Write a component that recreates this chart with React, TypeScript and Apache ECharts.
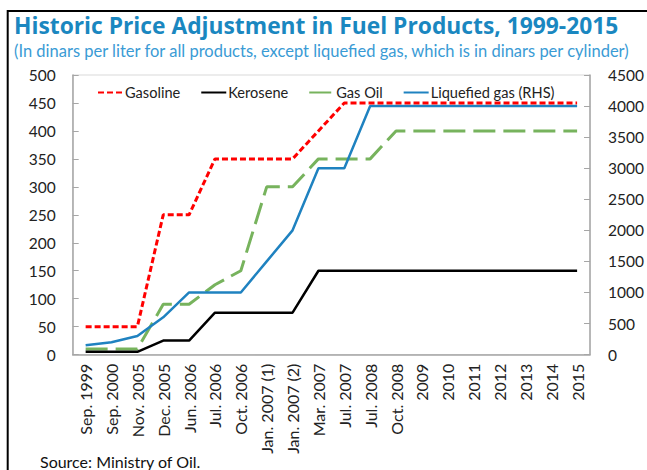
import React, { useEffect, useRef } from "react";
import * as echarts from "echarts";

const categories = [
  "Sep. 1999", "Sep. 2000", "Nov. 2005", "Dec. 2005", "Jun. 2006", "Jul. 2006",
  "Oct. 2006", "Jan. 2007 (1)", "Jan. 2007 (2)", "Mar. 2007", "Jul. 2007", "Jul. 2008",
  "Oct. 2008", "2009", "2010", "2011", "2012", "2013", "2014", "2015",
];
const gasoline = [50, 50, 50, 250, 250, 350, 350, 350, 350, 400, 450, 450, 450, 450, 450, 450, 450, 450, 450, 450];
const kerosene = [5, 5, 5, 25, 25, 75, 75, 75, 75, 150, 150, 150, 150, 150, 150, 150, 150, 150, 150, 150];
const gasOil = [10, 10, 10, 90, 90, 125, 150, 300, 300, 350, 350, 350, 400, 400, 400, 400, 400, 400, 400, 400];
const liquefiedGas = [150, 200, 300, 600, 1000, 1000, 1000, 1500, 2000, 3000, 3000, 4000, 4000, 4000, 4000, 4000, 4000, 4000, 4000, 4000];

const leftTicks = { min: 0, max: 500, interval: 50 };
const rightTicks = { min: 0, max: 4500, interval: 500 };

const FONT = "Lato, 'Noto Sans', sans-serif";
const AXIS_COLOR = "#a6a6a6";

export default function App() {
  const ref = useRef<HTMLDivElement>(null);
  useEffect(() => {
    if (!ref.current) return;
    const chart = echarts.init(ref.current, null, { renderer: "svg" });
    chart.setOption({
      animation: false,
      backgroundColor: "#ffffff",
      textStyle: { fontFamily: FONT },
      graphic: [
        {
          type: "rect",
          shape: { x: 7.7, y: 11, width: 700, height: 600 },
          style: { fill: "none", stroke: "#000", lineWidth: 2 },
          silent: true,
        },
        {
          type: "text",
          left: 14,
          top: 14,
          style: {
            text: "Historic Price Adjustment in Fuel Products, 1999-2015",
            fill: "#1a87c0",
            font: `bold 22.8px 'Open Sans', sans-serif`,
          },
        },
        {
          type: "text",
          left: 14,
          top: 42,
          style: {
            text: "(In dinars per liter for all products, except liquefied gas, which is in dinars per cylinder)",
            fill: "#3a9bd5",
            font: `16.5px ${FONT}`,
          },
        },
        {
          type: "text",
          left: 40,
          top: 453,
          style: {
            text: "Source: Ministry of Oil.",
            fill: "#111",
            font: `16px ${FONT}`,
          },
        },
      ],
      legend: {
        left: 92,
        top: 80,
        itemWidth: 25,
        itemHeight: 10,
        itemGap: 20,
        itemStyle: { opacity: 0 },
        textStyle: { fontSize: 14.6, color: "#222", fontFamily: FONT, padding: [0, 0, 0, -3] },
        data: ["Gasoline", "Kerosene", "Gas Oil", "Liquefied gas (RHS)"],
      },
      grid: {
        left: 72.7,
        right: 50.3,
        top: 75,
        bottom: 115.4,
        show: true,
        borderColor: "#d9d9d9",
        borderWidth: 1,
        backgroundColor: "transparent",
      },
      xAxis: {
        type: "category",
        data: categories,
        boundaryGap: true,
        axisLine: { lineStyle: { color: AXIS_COLOR, width: 1.5 } },
        axisTick: { inside: true, length: 6, lineStyle: { color: AXIS_COLOR } },
        axisLabel: { rotate: 90, margin: 9, fontSize: 16, color: "#222", interval: 0, fontFamily: FONT },
        splitLine: { show: false },
      },
      yAxis: [
        {
          type: "value",
          ...leftTicks,
          position: "left",
          axisLine: { show: true, lineStyle: { color: AXIS_COLOR, width: 1.5 } },
          axisTick: { show: true, inside: true, length: 6, lineStyle: { color: AXIS_COLOR } },
          axisLabel: { margin: 17, fontSize: 15.5, color: "#222", fontFamily: FONT },
          splitLine: { show: false },
        },
        {
          type: "value",
          ...rightTicks,
          position: "right",
          axisLine: { show: true, lineStyle: { color: AXIS_COLOR, width: 1.5 } },
          axisTick: { show: true, inside: true, length: 6, lineStyle: { color: AXIS_COLOR } },
          axisLabel: {
            margin: 18,
            fontSize: 15.5,
            color: "#222",
            fontFamily: FONT,
            formatter: (v: number) => String(v),
          },
          splitLine: { show: false },
        },
      ],
      series: [
        {
          name: "Gasoline",
          type: "line",
          data: gasoline,
          symbol: "none",
          yAxisIndex: 0,
          z: 4,
          lineStyle: { color: "#ff0000", width: 3, type: [6, 3] },
          itemStyle: { color: "#ff0000" },
        },
        {
          name: "Kerosene",
          type: "line",
          data: kerosene,
          symbol: "none",
          yAxisIndex: 0,
          z: 3,
          lineStyle: { color: "#000000", width: 2.5 },
          itemStyle: { color: "#000000" },
        },
        {
          name: "Gas Oil",
          type: "line",
          data: gasOil,
          symbol: "none",
          yAxisIndex: 0,
          z: 2,
          lineStyle: { color: "#77b35d", width: 3, type: [22, 8] },
          itemStyle: { color: "#77b35d" },
        },
        {
          name: "Liquefied gas (RHS)",
          type: "line",
          data: liquefiedGas,
          symbol: "none",
          yAxisIndex: 1,
          z: 3,
          lineStyle: { color: "#1f82c0", width: 2.5 },
          itemStyle: { color: "#1f82c0" },
        },
      ],
    });
    return () => chart.dispose();
  }, []);
  return (
    <div
      ref={ref}
      style={{ position: "fixed", left: 0, top: 0, width: 647, height: 470, background: "#fff" }}
    />
  );
}
